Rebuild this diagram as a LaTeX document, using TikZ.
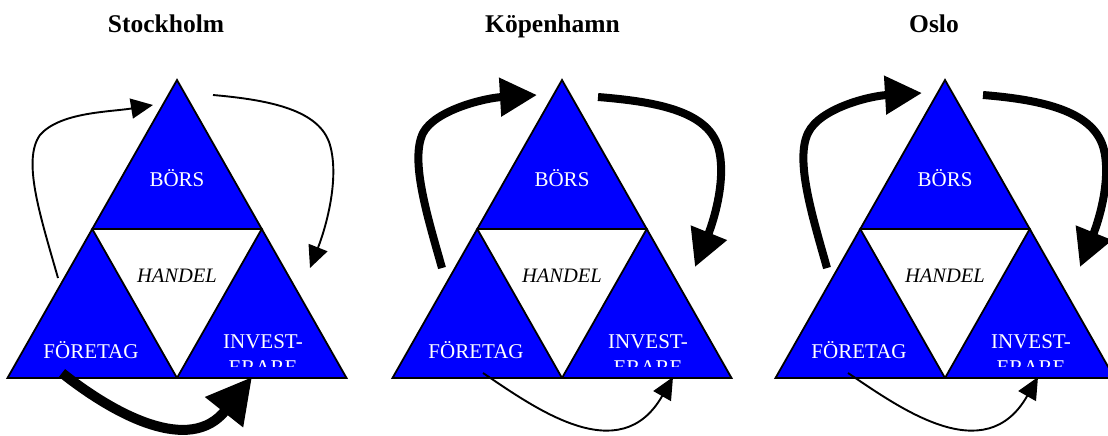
\documentclass[tikz,border=0pt]{standalone}
\usepackage{fontspec}
\setmainfont{Liberation Serif}
\usetikzlibrary{arrows.meta}
\definecolor{tblue}{RGB}{0,0,255}
\begin{document}
\begin{tikzpicture}[x=1pt,y=-1pt,
  tri/.style={fill=tblue, draw=black, line width=1.8pt, line join=miter},
  lbl/.style={text=white, font=\fontsize{21}{24}\selectfont, anchor=base, inner sep=0pt},
  hlbl/.style={text=black, font=\fontsize{20.5}{24}\selectfont\itshape, anchor=base, inner sep=0pt},
  ttl/.style={text=black, font=\fontsize{25.5}{30}\selectfont\bfseries, anchor=base, inner sep=0pt},
  thinarr/.style={line width=1.9pt, -{Triangle[length=22pt,width=20pt]}},
  thickarr/.style={line width=8pt, -{Triangle[length=37pt,width=37pt]}},
  heavyarr/.style={line width=10pt, -{Triangle[length=45pt,width=46pt]}}]
\useasboundingbox (0,0) rectangle (1108,436);
\clip (0,0) rectangle (1108,436);

% titles
\node[ttl] (t1) at (166,33) {Stockholm};
\node[ttl] (t2) at (552.5,33) {Köpenhamn};
\node[ttl] (t3) at (934,33) {Oslo};

% triangle groups
\foreach \g/\xo in {1/177,2/562,3/945}{
  \begin{scope}[shift={(\xo,0)}]
    \coordinate (A\g) at (0,80);
    \coordinate (L\g) at (-169.5,378);
    \coordinate (R\g) at (169.5,378);
    \coordinate (ML\g) at (-84.75,229);
    \coordinate (MR\g) at (84.75,229);
    \coordinate (MB\g) at (0,378);
    \filldraw[tri] (A\g) -- (ML\g) -- (MR\g) -- cycle;
    \filldraw[tri] (ML\g) -- (L\g) -- (MB\g) -- cycle;
    \filldraw[tri] (MR\g) -- (MB\g) -- (R\g) -- cycle;
    \node[lbl] (bors\g) at (0,186) {BÖRS};
    \node[hlbl] (handel\g) at (0,282) {HANDEL};
    \node[lbl] (foretag\g) at (-86,358) {FÖRETAG};
    \node[lbl] (invest\g) at (86,348) {INVEST-};
    \begin{scope}
      \clip (0,300) rectangle (170,366.5);
      \node[lbl] (erare\g) at (86,374) {ERARE};
    \end{scope}
  \end{scope}
}

% Stockholm arrows
\begin{scope}[shift={(177,0)}]
  \coordinate (s1l) at (-119,278); \coordinate (e1l) at (-24,105);
  \coordinate (s1r) at (36,95);    \coordinate (e1r) at (133,268);
  \coordinate (s1b) at (-115,373); \coordinate (e1b) at (75,377);
  \draw[thinarr] (s1l) .. controls (-137,215) and (-155,160) .. (-137,135)
                       .. controls (-117,112) and (-67,112) .. (e1l);
  \draw[thinarr] (s1r) .. controls (93,100) and (143,110) .. (153,145)
                       .. controls (163,180) and (148,230) .. (e1r);
  \draw[heavyarr] (s1b) .. controls (-62,415) and (13,455) .. (e1b);
\end{scope}

% Köpenhamn arrows
\begin{scope}[shift={(562,0)}]
  \coordinate (s2l) at (-120,268); \coordinate (e2l) at (-25,95);
  \coordinate (s2r) at (36,97);    \coordinate (e2r) at (133,267);
  \coordinate (s2b) at (-79,373);  \coordinate (e2b) at (111,377);
  \draw[thickarr] (s2l) .. controls (-135,215) and (-152,160) .. (-139,133)
                        .. controls (-127,110) and (-77,98) .. (e2l);
  \draw[thickarr] (s2r) .. controls (98,102) and (148,112) .. (157,150)
                        .. controls (165,185) and (148,230) .. (e2r);
  \draw[thinarr] (s2b) .. controls (-27,408) and (58,470) .. (e2b);
\end{scope}

% Oslo arrows
\begin{scope}[shift={(945,0)}]
  \coordinate (s3l) at (-118,268); \coordinate (e3l) at (-23,93);
  \coordinate (s3r) at (38,95);    \coordinate (e3r) at (135,267);
  \coordinate (s3b) at (-97,373);  \coordinate (e3b) at (93,377);
  \draw[thickarr] (s3l) .. controls (-133,215) and (-150,160) .. (-137,133)
                        .. controls (-125,108) and (-75,96) .. (e3l);
  \draw[thickarr] (s3r) .. controls (100,100) and (150,112) .. (159,150)
                        .. controls (167,185) and (150,230) .. (e3r);
  \draw[thinarr] (s3b) .. controls (-45,408) and (40,470) .. (e3b);
\end{scope}
\end{tikzpicture}
\end{document}
